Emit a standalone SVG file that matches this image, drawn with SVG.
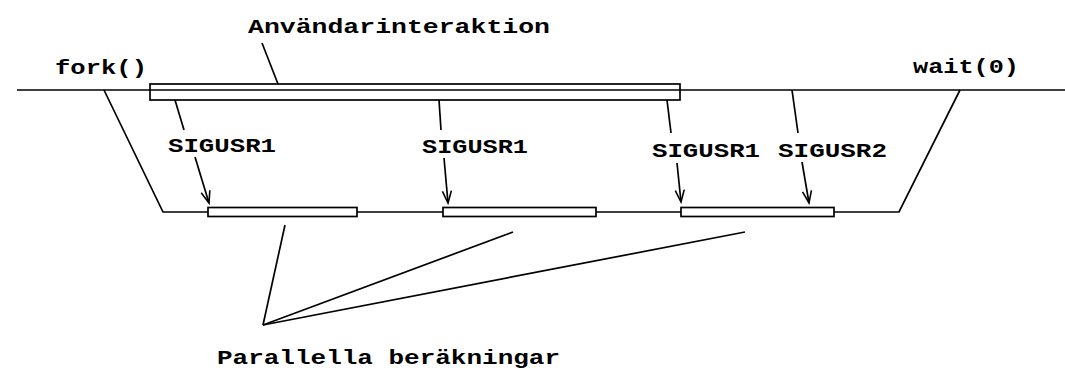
<svg xmlns="http://www.w3.org/2000/svg" width="1065" height="370" viewBox="0 0 1065 370">
  <style>
    .ln { stroke: #000; stroke-width: 1.7; fill: none; }
    .bar { stroke: #000; stroke-width: 1.7; fill: #fff; }
    .lbl { font-family: "Liberation Mono", "DejaVu Sans Mono", monospace; font-weight: bold; font-size: 21px; fill: #000; }
  </style>
  <defs>
    <marker id="vhead" viewBox="-13 -6 15 12" refX="0" refY="0" markerWidth="15" markerHeight="12" markerUnits="userSpaceOnUse" orient="auto">
      <path d="M-12,-4.5 L0,0 L-12,4.5" fill="none" stroke="#000" stroke-width="1.6"/>
    </marker>
  </defs>
  <rect width="1065" height="370" fill="#fff"/>

  <!-- process timelines -->
  <g id="parent-timeline">
    <line class="ln" x1="17" y1="90" x2="1065" y2="90"/>
    <rect class="bar" x="150" y="84" width="530" height="16"/>
    <line class="ln" x1="150" y1="90" x2="680" y2="90"/>
  </g>
  <g id="child-timeline">
    <polyline class="ln" points="104,90 163,212 899,212 960,90"/>
    <rect class="bar" x="208" y="207.5" width="149" height="9"/>
    <rect class="bar" x="443" y="207.5" width="153" height="9"/>
    <rect class="bar" x="681" y="207.5" width="153" height="9"/>
  </g>

  <!-- labels -->
  <g id="label-fork"><text class="lbl" x="55" y="74" textLength="92" lengthAdjust="spacingAndGlyphs">fork()</text></g>
  <g id="label-wait"><text class="lbl" x="913" y="73" textLength="106" lengthAdjust="spacingAndGlyphs">wait(0)</text></g>
  <g id="label-interaction"><text class="lbl" x="248" y="33" textLength="302" lengthAdjust="spacingAndGlyphs">Användarinteraktion</text></g>
  <g id="label-sig1a"><text class="lbl" x="168" y="152" textLength="108" lengthAdjust="spacingAndGlyphs">SIGUSR1</text></g>
  <g id="label-sig1b"><text class="lbl" x="422" y="153" textLength="106" lengthAdjust="spacingAndGlyphs">SIGUSR1</text></g>
  <g id="label-sig1c"><text class="lbl" x="652" y="157" textLength="108" lengthAdjust="spacingAndGlyphs">SIGUSR1</text></g>
  <g id="label-sig2"><text class="lbl" x="778" y="157" textLength="109" lengthAdjust="spacingAndGlyphs">SIGUSR2</text></g>
  <g id="label-parallel"><text class="lbl" x="217" y="364" textLength="343" lengthAdjust="spacingAndGlyphs">Parallella beräkningar</text></g>

  <!-- connectors -->
  <g id="connectors">
    <line class="ln" x1="262" y1="43" x2="278" y2="84"/>
    <!-- signal arrows, split around their labels -->
    <line class="ln" x1="175" y1="100" x2="184" y2="130"/>
    <line class="ln" x1="195" y1="157" x2="209" y2="203" marker-end="url(#vhead)"/>
    <line class="ln" x1="439" y1="100" x2="441" y2="130"/>
    <line class="ln" x1="444" y1="158" x2="448" y2="203" marker-end="url(#vhead)"/>
    <line class="ln" x1="667" y1="100" x2="671" y2="133"/>
    <line class="ln" x1="677" y1="163" x2="681" y2="202" marker-end="url(#vhead)"/>
    <line class="ln" x1="792" y1="90" x2="798" y2="133"/>
    <line class="ln" x1="802" y1="162" x2="809" y2="203" marker-end="url(#vhead)"/>
    <!-- pointers to the computation segments -->
    <line class="ln" x1="263" y1="325" x2="285" y2="225"/>
    <line class="ln" x1="263" y1="325" x2="513" y2="232"/>
    <line class="ln" x1="263" y1="325" x2="745" y2="232"/>
  </g>
</svg>
